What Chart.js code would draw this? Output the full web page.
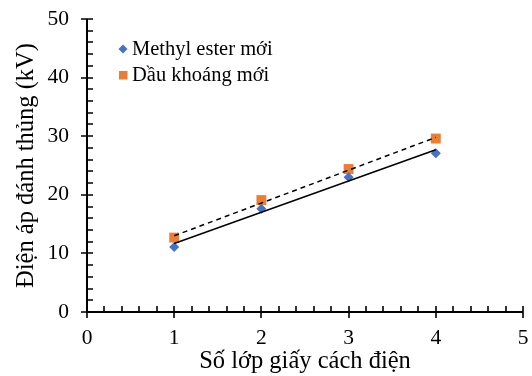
<!DOCTYPE html>
<html>
<head>
<meta charset="utf-8">
<script src="https://cdn.jsdelivr.net/npm/chart.js@4.4.1/dist/chart.umd.min.js"></script>
<style>
  html, body { margin: 0; padding: 0; background: #fff; }
  #wrap { width: 532px; height: 376px; }
</style>
</head>
<body>
<div id="wrap"><canvas id="chart" width="532" height="376"></canvas></div>
<script>
// Dữ liệu
const soLop = [1, 2, 3, 4];
const methylEster = [11.1, 17.6, 23.0, 27.1];
const dauKhoang = [12.7, 19.1, 24.4, 29.6];
// đường xu hướng (đầu và cuối, x = 1 và x = 4)
const trendX = [1, 4];
const trendEster = [11.7, 27.7];
const trendKhoang = [13.0, 29.8];

const xTitle = 'Số lớp giấy cách điện';
const yTitle = 'Điện áp đánh thủng (kV)';
const seriesNames = ['Methyl ester mới', 'Dầu khoáng mới'];

const FONT = "'Liberation Serif', 'Times New Roman', serif";
const BLUE = '#4472C4';
const ORANGE = '#ED7D31';

const toPoints = (xs, ys) => xs.map((x, i) => ({ x, y: ys[i] }));

// vạch chia chính cắt qua trục, vạch phụ nằm bên trong
const tickPlugin = {
    id: 'axisTicks',
    afterDraw(chart) {
        const ctx = chart.ctx;
        const xs = chart.scales.x, ys = chart.scales.y;
        const area = chart.chartArea;
        ctx.save();
        ctx.strokeStyle = '#000';
        ctx.lineWidth = 2;
        ctx.beginPath();
        ctx.moveTo(area.left, area.top);
        ctx.lineTo(area.left, area.bottom);
        ctx.lineTo(area.right, area.bottom);
        ctx.stroke();
        ctx.lineWidth = 1.6;
        ctx.beginPath();
        for (let v = 0; v <= 5.0001; v += 0.2) {
            const px = Math.round(xs.getPixelForValue(v));
            const major = Math.abs(v - Math.round(v)) < 1e-6;
            ctx.moveTo(px, area.bottom + (major ? 6 : 0));
            ctx.lineTo(px, area.bottom - 6);
        }
        for (let v = 0; v <= 50.0001; v += 2) {
            const py = Math.round(ys.getPixelForValue(v));
            const major = v % 10 === 0;
            ctx.moveTo(area.left - (major ? 6 : 0), py);
            ctx.lineTo(area.left + 6, py);
        }
        ctx.stroke();
        ctx.restore();
    }
};

// chú giải bên trong vùng vẽ
const legendPlugin = {
    id: 'innerLegend',
    afterDraw(chart) {
        const ctx = chart.ctx;
        const area = chart.chartArea;
        const x0 = area.left + 36;
        const y0 = area.top + 30;
        ctx.save();
        ctx.font = `20.5px ${FONT}`;
        ctx.textBaseline = 'middle';
        // kim cương
        ctx.fillStyle = BLUE;
        ctx.beginPath();
        ctx.moveTo(x0 - 4.5, y0);
        ctx.lineTo(x0, y0 - 4.5);
        ctx.lineTo(x0 + 4.5, y0);
        ctx.lineTo(x0, y0 + 4.5);
        ctx.closePath();
        ctx.fill();
        ctx.fillStyle = ORANGE;
        ctx.fillRect(x0 - 4, y0 + 26 - 4, 8.5, 8.5);
        ctx.fillStyle = '#000';
        ctx.fillText(seriesNames[0], x0 + 9, y0 + 1);
        ctx.fillText(seriesNames[1], x0 + 9, y0 + 27);
        ctx.restore();
    }
};

new Chart(document.getElementById('chart'), {
    type: 'scatter',
    data: {
        datasets: [
            {
                label: 'trend1',
                data: toPoints(trendX, trendEster),
                showLine: true,
                borderColor: '#000',
                borderWidth: 1.5,
                pointRadius: 0
            },
            {
                label: 'trend2',
                data: toPoints(trendX, trendKhoang),
                showLine: true,
                borderColor: '#000',
                borderWidth: 1.5,
                borderDash: [5, 4],
                pointRadius: 0
            },
            {
                label: seriesNames[0],
                data: toPoints(soLop, methylEster),
                pointStyle: 'rectRot',
                pointRadius: 5,
                backgroundColor: BLUE,
                borderColor: BLUE,
                borderWidth: 0
            },
            {
                label: seriesNames[1],
                data: toPoints(soLop, dauKhoang),
                pointStyle: 'rect',
                pointRadius: 7,
                backgroundColor: ORANGE,
                borderColor: ORANGE,
                borderWidth: 0
            }
        ]
    },
    options: {
        responsive: false,
        animation: false,
        layout: { padding: { top: 19, right: 9, left: 0, bottom: 0 } },
        plugins: {
            legend: { display: false },
            tooltip: { enabled: false }
        },
        scales: {
            x: {
                type: 'linear',
                min: 0,
                max: 5,
                ticks: { stepSize: 1, color: '#000', padding: 13, font: { family: FONT, size: 21.5 } },
                grid: { display: false, drawTicks: false },
                border: { display: false },
                title: { display: true, text: xTitle, color: '#000', padding: { top: 0, bottom: 0 }, font: { family: FONT, size: 24.5 } },
                afterFit(scale) {
                    scale.height = 64;
                    scale.paddingLeft = 0;
                    scale.paddingRight = 0;
                }
            },
            y: {
                type: 'linear',
                min: 0,
                max: 50,
                ticks: { stepSize: 10, color: '#000', padding: 18, font: { family: FONT, size: 21.5 } },
                grid: { display: false, drawTicks: false },
                border: { display: false },
                title: { display: true, text: yTitle, color: '#000', padding: { top: 12, bottom: 0 }, font: { family: FONT, size: 24.5 } },
                afterFit(scale) {
                    scale.width = 87;
                    scale.paddingTop = 0;
                    scale.paddingBottom = 0;
                }
            }
        }
    },
    plugins: [tickPlugin, legendPlugin]
});
</script>
</body>
</html>
